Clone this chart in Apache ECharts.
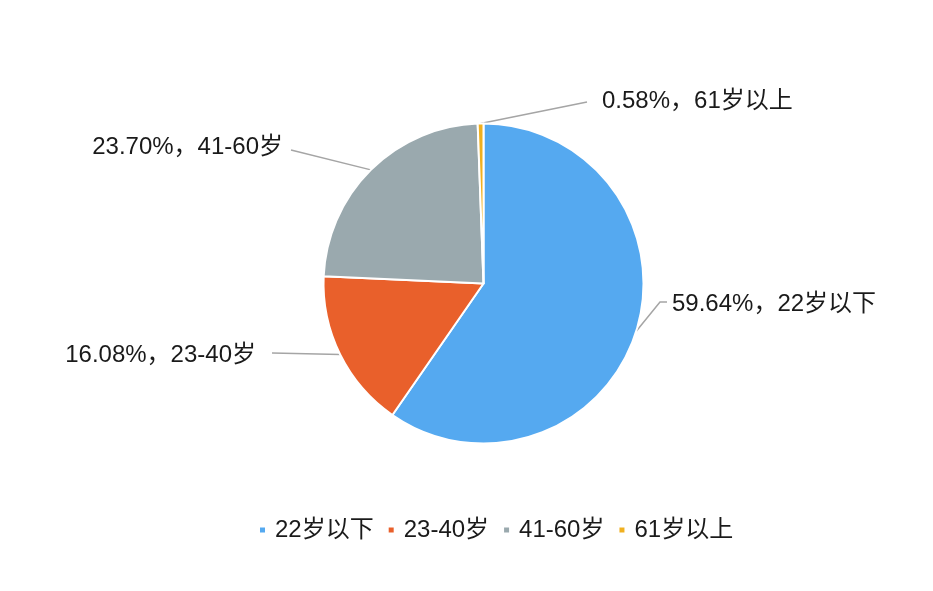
<!DOCTYPE html>
<html>
<head>
<meta charset="utf-8">
<script src="https://cdn.jsdelivr.net/npm/echarts@6/dist/echarts.min.js"></script>
<style>
html,body{margin:0;padding:0;background:#fff;}
#main{width:933px;height:591px;}
</style>
</head>
<body>
<div id="main"></div>
<script>
// Data
var categories = ['22岁以下', '23-40岁', '41-60岁', '61岁以上'];
var values = [59.64, 16.08, 23.70, 0.58];
var colors = ['#55A9F0', '#E9602B', '#9AA9AE', '#F0B020'];

var FONT = '"Liberation Sans", Arial, "Noto Sans CJK SC", sans-serif';

// label placement (style/layout, not data)
var labelPlaces = [
  { x: 672, y: 304, align: 'left', pts: [[660, 302], [667, 302]] },
  { x: 256, y: 355, align: 'right', pts: [[272, 353]] },
  { x: 283, y: 147, align: 'right', pts: [[291, 150]] },
  { x: 602, y: 101, align: 'left', pts: [[587, 102]] }
];

var chart = echarts.init(document.getElementById('main'), null, { renderer: 'canvas' });

var seriesData = categories.map(function (c, i) {
  return { name: c, value: values[i], itemStyle: { color: colors[i] } };
});

chart.setOption({
  backgroundColor: '#ffffff',
  animation: false,
  color: colors,
  legend: {
    left: 253,
    top: 513,
    orient: 'horizontal',
    icon: 'rect',
    itemWidth: 7,
    itemHeight: 7,
    itemGap: 13,
    textStyle: { fontSize: 24, color: '#1a1a1a', fontFamily: FONT, padding: [0, 0, 0, 4] },
    data: categories
  },
  series: [{
    type: 'pie',
    center: [483.5, 283.5],
    radius: [0, 160],
    startAngle: 90,
    clockwise: true,
    avoidLabelOverlap: false,
    itemStyle: { borderColor: '#ffffff', borderWidth: 2 },
    label: {
      show: true,
      position: 'outside',
      fontSize: 24,
      color: '#1a1a1a',
      fontFamily: FONT,
      formatter: function (p) { return p.value.toFixed(2) + '%，' + p.name; }
    },
    labelLine: {
      show: true,
      length: 20,
      length2: 20,
      lineStyle: { color: '#a5a5a5', width: 1.5 }
    },
    labelLayout: function (params) {
      var lp = labelPlaces[params.dataIndex];
      var res = { x: lp.x, y: lp.y, align: lp.align, verticalAlign: 'middle' };
      if (params.labelLinePoints && params.labelLinePoints.length) {
        var start = params.labelLinePoints[0];
        res.labelLinePoints = [start].concat(lp.pts);
      }
      return res;
    },
    emphasis: { disabled: true },
    data: seriesData
  }]
});
</script>
</body>
</html>
